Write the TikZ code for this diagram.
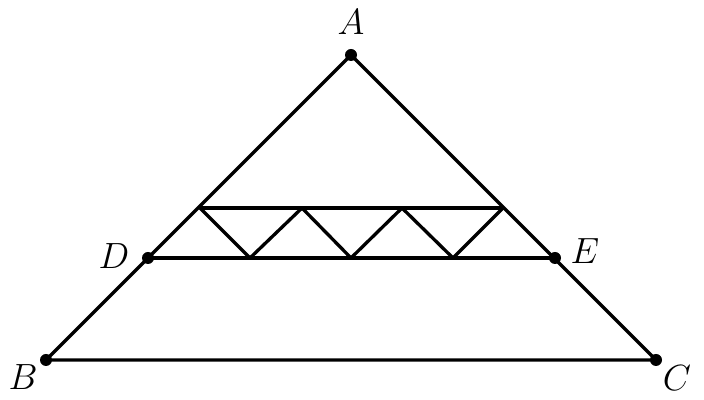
\documentclass[tikz,border=0pt]{standalone}
\begin{document}
\begin{tikzpicture}[line width=0.066cm, line join=round]
            \useasboundingbox (-0.920000,-0.800000) rectangle (13.160000,7.200000);
            {\fontsize{21}{25}\selectfont

            % Marking points A B C D E
            \coordinate (A) at (6.100000,6.100000);
            \coordinate (B) at (0.000000,0.000000);
            \coordinate (C) at (12.200000,0.000000);
            \coordinate (D) at (2.040000,2.040000);
            \coordinate (E) at (10.180000,2.040000);

            % Drawing triangle A B C
            \draw (A) -- (B) -- (C) -- cycle;%

            % Drawing segment D E
            \draw (D) -- (E);%

            % Drawing upper segment and zigzag
            \coordinate (P1) at (3.080000,3.040000);
            \coordinate (P2) at (4.080000,2.040000);
            \coordinate (P3) at (5.120000,3.040000);
            \coordinate (P4) at (6.100000,2.040000);
            \coordinate (P5) at (7.120000,3.040000);
            \coordinate (P6) at (8.140000,2.040000);
            \coordinate (P7) at (9.140000,3.040000);
            \draw (P1) -- (P7);%
            \draw (P1) -- (P2) -- (P3) -- (P4) -- (P5) -- (P6) -- (P7);%

            % Marking points by dots
            \foreach \p in {A,B,C,D,E}
              \fill (\p) circle (0.120000);%

            % Labels
            \node (labA) at (6.100000,6.760000) { $A$ };%
            \node (labB) at (-0.460000,-0.340000) { $B$ };%
            \node (labC) at (12.620000,-0.360000) { $C$ };%
            \node (labD) at (1.360000,2.080000) { $D$ };%
            \node (labE) at (10.780000,2.180000) { $E$ };%
            }
        \end{tikzpicture}
\end{document}
